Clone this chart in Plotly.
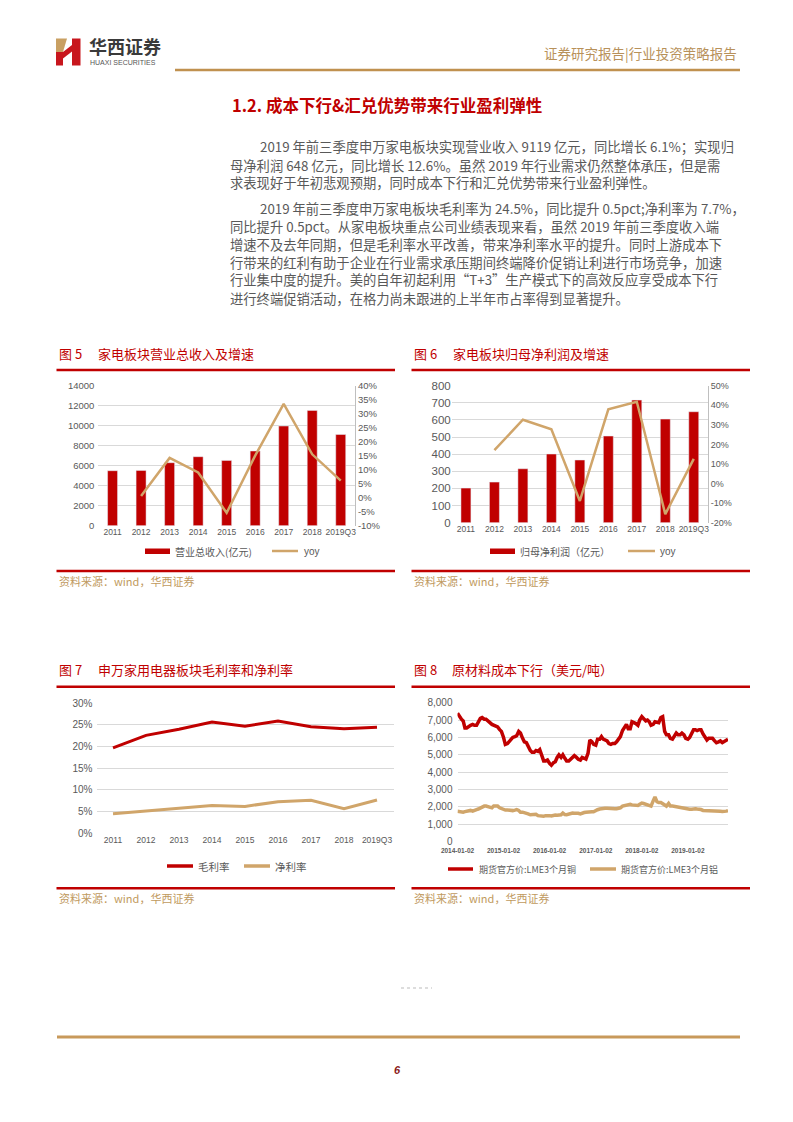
import plotly.graph_objects as go

W, H = 793, 1122
CJK = "Noto Sans CJK SC"
NUM = "Liberation Sans, Arial"
RED = "#C00000"
GOLD = "#D0A56A"
GREY_TXT = "#595959"
GRID = "#D9D9D9"
SRC = "#BF9A5E"

# ---------------- data ----------------
years = ["2011", "2012", "2013", "2014", "2015", "2016", "2017", "2018", "2019Q3"]
revenue = [5500, 5530, 6300, 6900, 6530, 7470, 9970, 11530, 9119]
revenue_yoy = [None, 0.006, 0.142, 0.090, -0.054, 0.150, 0.335, 0.155, 0.061]
profit = [202, 237, 315, 401, 366, 506, 716, 605, 648]
profit_yoy = [None, 0.171, 0.326, 0.277, -0.089, 0.379, 0.418, -0.156, 0.126]
gross_margin = [0.197, 0.226, 0.240, 0.257, 0.247, 0.259, 0.246, 0.241, 0.245]
net_margin = [0.045, 0.051, 0.058, 0.064, 0.062, 0.073, 0.076, 0.057, 0.077]

copper = [
    7400, 7200, 7050, 6950, 6550, 6550, 6650, 6700, 6750, 6700, 6700, 6900,
    7100, 7150, 7050, 7050, 6900, 6850, 6750, 6700, 6650, 6600, 6450, 6350,
    6000, 5600, 5650, 5750, 5900, 6000, 6050, 6100, 6350, 6250, 5950, 5750,
    5700, 5450, 5250, 5150, 5150, 5250, 5200, 5300, 4900, 4650, 4650, 4700,
    4500, 4400, 4550, 4600, 4850, 5000, 4850, 5000, 4800, 4650, 4650, 4750,
    4900, 4950, 4850, 4750, 4700, 4850, 4800, 4750, 5100, 5850, 5750, 5600,
    5550, 5900, 5900, 6050, 5900, 5850, 5800, 5650, 5600, 5650, 5650, 5750,
    5900, 6050, 6400, 6550, 6750, 6500, 6500, 6900, 6850, 6800, 6700, 7000,
    7200, 7100, 6950, 7000, 6900, 6700, 6750, 6900, 6850, 6850, 7150, 7200,
    6350, 6150, 6150, 5950, 5900, 6100, 6250, 6150, 6150, 6250, 6150, 5950,
    5900, 6000, 6250, 6450, 6450, 6400, 6450, 6450, 6200, 6000, 5850, 5950,
    5950, 5950, 5800, 5700, 5750, 5800, 5700, 5750, 5850, 5900,
]
aluminium = [
    1750, 1720, 1720, 1700, 1730, 1760, 1820, 1800, 1760, 1820, 1850, 1880,
    1950, 2000, 2050, 2050, 2030, 1980, 1950, 2050, 2070, 2050, 1950, 1900,
    1850, 1820, 1830, 1800, 1780, 1790, 1820, 1850, 1800, 1700, 1700, 1680,
    1650, 1600, 1550, 1570, 1600, 1580, 1500, 1480, 1480, 1470, 1500, 1520,
    1500, 1480, 1520, 1540, 1530, 1560, 1550, 1650, 1560, 1550, 1600, 1630,
    1650, 1640, 1650, 1640, 1600, 1650, 1680, 1700, 1720, 1750, 1730, 1720,
    1800, 1840, 1880, 1900, 1940, 1920, 1930, 1910, 1930, 1900, 1890, 1900,
    1920, 1950, 2050, 2080, 2100, 2100, 2150, 2120, 2100, 2080, 2090, 2150,
    2220, 2200, 2150, 2130, 2080, 2050, 2350, 2580, 2300, 2250, 2250, 2200,
    2100, 2050, 2200, 2050, 2050, 2030, 2010, 1980, 1950, 1940, 1920, 1880,
    1850, 1870, 1870, 1900, 1900, 1880, 1870, 1850, 1800, 1800, 1780, 1790,
    1800, 1790, 1760, 1770, 1760, 1750, 1740, 1730, 1760, 1790,
]
metal_dates = [f"{y}-{m:02d}-{d:02d}" for y in range(2014, 2020) for m in range(1, 13)
               for d in (2, 16) if not (y == 2019 and m == 12)]
metal_ticks = ["2014-01-02", "2015-01-02", "2016-01-02", "2017-01-02", "2018-01-02", "2019-01-02"]

rev_ticks = [0, 2000, 4000, 6000, 8000, 10000, 12000, 14000]
rev_yoy_ticks = [-0.10, -0.05, 0, 0.05, 0.10, 0.15, 0.20, 0.25, 0.30, 0.35, 0.40]
rev_yoy_text = ["-10%", "-5%", "0%", "5%", "10%", "15%", "20%", "25%", "30%", "35%", "40%"]
prof_ticks = [0, 100, 200, 300, 400, 500, 600, 700, 800]
prof_yoy_ticks = [-0.2, -0.1, 0, 0.1, 0.2, 0.3, 0.4, 0.5]
prof_yoy_text = ["-20%", "-10%", "0%", "10%", "20%", "30%", "40%", "50%"]
margin_ticks = [0, 0.05, 0.10, 0.15, 0.20, 0.25, 0.30]
margin_text = ["0%", "5%", "10%", "15%", "20%", "25%", "30%"]
metal_yticks = [0, 1000, 2000, 3000, 4000, 5000, 6000, 7000, 8000]

para1 = [
    "2019 年前三季度申万家电板块实现营业收入 9119 亿元，同比增长 6.1%；实现归",
    "母净利润 648 亿元，同比增长 12.6%。虽然 2019 年行业需求仍然整体承压，但是需",
    "求表现好于年初悲观预期，同时成本下行和汇兑优势带来行业盈利弹性。",
]
para2 = [
    "2019 年前三季度申万家电板块毛利率为 24.5%，同比提升 0.5pct;净利率为 7.7%，",
    "同比提升 0.5pct。从家电板块重点公司业绩表现来看，虽然 2019 年前三季度收入端",
    "增速不及去年同期，但是毛利率水平改善，带来净利率水平的提升。同时上游成本下",
    "行带来的红利有助于企业在行业需求承压期间终端降价促销让利进行市场竞争，加速",
    "行业集中度的提升。美的自年初起利用“T+3”生产模式下的高效反应享受成本下行",
    "进行终端促销活动，在格力尚未跟进的上半年市占率得到显著提升。",
]


def px(x):
    return x / W


def py(y):
    return 1 - y / H


fig = go.Figure()

# ---- chart 5
fig.add_trace(go.Bar(x=years, y=revenue, marker_color=RED, width=0.35,
                     xaxis="x", yaxis="y", name="营业总收入(亿元)"))
fig.add_trace(go.Scatter(x=years, y=revenue_yoy, mode="lines", line=dict(color=GOLD, width=2.5),
                         xaxis="x", yaxis="y2", name="yoy"))
# ---- chart 6
fig.add_trace(go.Bar(x=years, y=profit, marker_color=RED, width=0.35,
                     xaxis="x2", yaxis="y3", name="归母净利润（亿元）"))
fig.add_trace(go.Scatter(x=years, y=profit_yoy, mode="lines", line=dict(color=GOLD, width=2.5),
                         xaxis="x2", yaxis="y4", name="yoy"))
# ---- chart 7
fig.add_trace(go.Scatter(x=years, y=gross_margin, mode="lines", line=dict(color=RED, width=3),
                         xaxis="x3", yaxis="y5", name="毛利率"))
fig.add_trace(go.Scatter(x=years, y=net_margin, mode="lines", line=dict(color=GOLD, width=3),
                         xaxis="x3", yaxis="y5", name="净利率"))
# ---- chart 8
fig.add_trace(go.Scatter(x=metal_dates, y=copper, mode="lines", line=dict(color=RED, width=3.5),
                         xaxis="x4", yaxis="y6", name="期货官方价:LME3个月铜"))
fig.add_trace(go.Scatter(x=metal_dates, y=aluminium, mode="lines", line=dict(color=GOLD, width=3.5),
                         xaxis="x4", yaxis="y6", name="期货官方价:LME3个月铝"))


def tf(size, bold=False):
    d = dict(family=NUM, size=size, color=GREY_TXT)
    if bold:
        d["weight"] = "bold"
    return d


cat_x = dict(type="category", range=[-0.5, 8.5], showgrid=False, showline=False,
             zeroline=False, ticks="", tickangle=0, fixedrange=True)

layout = dict(
    width=W, height=H, margin=dict(l=0, r=0, t=0, b=0, autoexpand=False),
    paper_bgcolor="white", plot_bgcolor="white", showlegend=False,
    xaxis=dict(cat_x, domain=[px(98.3), px(355)], anchor="y", tickfont=tf(8.5)),
    yaxis=dict(domain=[py(525.7), py(385.7)], anchor="x", range=[0, 14000], tickvals=rev_ticks,
               tickformat="d", gridcolor=GRID, zeroline=False, showline=False, tickfont=tf(9.5),
               ticklabelstandoff=3),
    yaxis2=dict(overlaying="y", side="right", anchor="x", range=[-0.10, 0.40],
                tickvals=rev_yoy_ticks, ticktext=rev_yoy_text, showgrid=False, zeroline=False,
                showline=True, linecolor="#BFBFBF", linewidth=1, tickfont=tf(9.5)),
    xaxis2=dict(cat_x, domain=[px(451.7), px(708)], anchor="y3", tickfont=tf(8.5)),
    yaxis3=dict(domain=[py(522.7), py(385.7)], anchor="x2", range=[0, 800], tickvals=prof_ticks,
                gridcolor=GRID, zeroline=False, showline=False, tickfont=tf(11.5)),
    yaxis4=dict(overlaying="y3", side="right", anchor="x2", range=[-0.20, 0.50],
                tickvals=prof_yoy_ticks, ticktext=prof_yoy_text, showgrid=False, zeroline=False,
                showline=True, linecolor="#BFBFBF", linewidth=1, tickfont=tf(9)),
    xaxis3=dict(cat_x, domain=[px(96.5), px(393.5)], anchor="y5", tickfont=tf(8.5)),
    yaxis5=dict(domain=[py(833.3), py(703.3)], anchor="x3", range=[0, 0.30], tickvals=margin_ticks,
                ticktext=margin_text, gridcolor=GRID, zeroline=False, showline=False,
                tickfont=tf(10), ticklabelstandoff=3),
    xaxis4=dict(type="date", domain=[px(457.5), px(728)], anchor="y6",
                range=[metal_dates[0], metal_dates[-1]], tickmode="array", tickvals=metal_ticks,
                ticktext=metal_ticks, showgrid=False, showline=False, zeroline=False, ticks="",
                tickangle=0, tickfont=tf(6.5, True), ticklabelstandoff=4),
    yaxis6=dict(domain=[py(841.7), py(702.7)], anchor="x4", range=[0, 8000], tickvals=metal_yticks,
                tickformat=",", gridcolor=GRID, zeroline=False, showline=False, tickfont=tf(10),
                ticklabelstandoff=4),
)
fig.update_layout(**layout)

shapes = []
ann = []


def hline(x0, x1, y, color, width, dash=None):
    ln = dict(color=color, width=width)
    if dash:
        ln["dash"] = dash
    shapes.append(dict(type="line", xref="paper", yref="paper", x0=px(x0), x1=px(x1),
                       y0=py(y), y1=py(y), line=ln))


def rect(x0, y0, x1, y1, color):
    shapes.append(dict(type="rect", xref="paper", yref="paper", x0=px(x0), x1=px(x1),
                       y0=py(y1), y1=py(y0), fillcolor=color, line=dict(width=0)))


def poly(points, color):
    path = "M " + " L ".join(f"{px(a):.5f},{py(b):.5f}" for a, b in points) + " Z"
    shapes.append(dict(type="path", xref="paper", yref="paper", path=path,
                       fillcolor=color, line=dict(width=0)))


def text(x, y, s, size, color, family=CJK, anchor="left", **fontkw):
    f = dict(family=family, size=size, color=color)
    f.update(fontkw)
    ann.append(dict(xref="paper", yref="paper", x=px(x), y=py(y), text=s, showarrow=False,
                    xanchor=anchor, yanchor="middle", font=f))


# ---- header
poly([(56, 38.5), (67, 38.5), (63, 52), (56, 52)], "#C9A063")
rect(56, 52, 63, 65.5, "#C8161D")
poly([(63, 52), (72, 45), (72, 51.5), (63, 58.5)], "#C8161D")
rect(72, 38.5, 80.5, 65.5, "#C8161D")
text(87, 46, "华西证券", 18, "#3A3A3A", weight="bold")
text(88, 62, "HUAXI SECURITIES", 7, "#555555", family=NUM)
text(739, 53, "证券研究报告|行业投资策略报告", 13.5, "#B8915A", anchor="right")
hline(175, 740, 70, "#C0914F", 2.5)

# ---- section heading & body
text(230, 105, "1.2. 成本下行&汇兑优势带来行业盈利弹性", 16.5, RED, weight="bold")
body_y1 = [147, 165, 183]
body_y2 = [208, 226, 244, 262, 280, 298]
for i, (s, y) in enumerate(zip(para1, body_y1)):
    text(258 if i == 0 else 228, y, s, 13.3, GREY_TXT)
for i, (s, y) in enumerate(zip(para2, body_y2)):
    text(258 if i == 0 else 228, y, s, 13.3, GREY_TXT)

# ---- chart frames: titles, red rules, source
frames = [
    (56.5, 395, 354, 370, 571, 580.5, "图 5", "家电板块营业总收入及增速", 96),
    (411.5, 750, 354, 370, 571, 580.5, "图 6", "家电板块归母净利润及增速", 451),
    (56.5, 395, 669, 686.7, 888.3, 897.5, "图 7", "申万家用电器板块毛利率和净利率", 96),
    (411.5, 750, 669, 686.7, 888.3, 897.5, "图 8", "原材料成本下行（美元/吨）", 450),
]
for x0, x1, ty, l1, l2, sy, num, title, tx in frames:
    text(x0, ty, num, 13, RED)
    text(tx, ty, title, 13, RED)
    hline(x0, x1, l1, RED, 2.5)
    hline(x0, x1, l2, RED, 2.5)
    text(x0, sy, "资料来源：wind，华西证券", 11, SRC)

# ---- manual legends
rect(145, 548.5, 170, 554, RED)
text(173, 551, "营业总收入(亿元)", 10, GREY_TXT)
hline(272, 298, 551, GOLD, 2.5)
text(302, 551, "yoy", 10, GREY_TXT, family=NUM)

rect(490, 548.5, 515, 554, RED)
text(518, 551, "归母净利润（亿元）", 10, GREY_TXT)
hline(628, 655, 551, GOLD, 2.5)
text(658, 551, "yoy", 10, GREY_TXT, family=NUM)

hline(167, 193, 866, RED, 3.5)
text(196, 866, "毛利率", 10.5, GREY_TXT)
hline(244, 270, 866, GOLD, 3.5)
text(273, 866, "净利率", 10.5, GREY_TXT)

hline(448, 473, 869, RED, 3.5)
text(477, 869, "期货官方价:LME3个月铜", 9, GREY_TXT)
hline(590, 616, 869, GOLD, 3.5)
text(619, 869, "期货官方价:LME3个月铝", 9, GREY_TXT)

# ---- footer
hline(401, 432, 988, "#BBBBBB", 1, "dot")
hline(57, 740, 1037, "#C8995B", 3)
text(397, 1070, "6", 11, "#8B1A1A", family=NUM, anchor="center", weight="bold", style="italic")

fig.update_layout(shapes=shapes, annotations=ann)
fig.write_html("out.html", config={"displayModeBar": False},
               post_script="document.body.style.margin='0';document.body.style.overflow='hidden';")
